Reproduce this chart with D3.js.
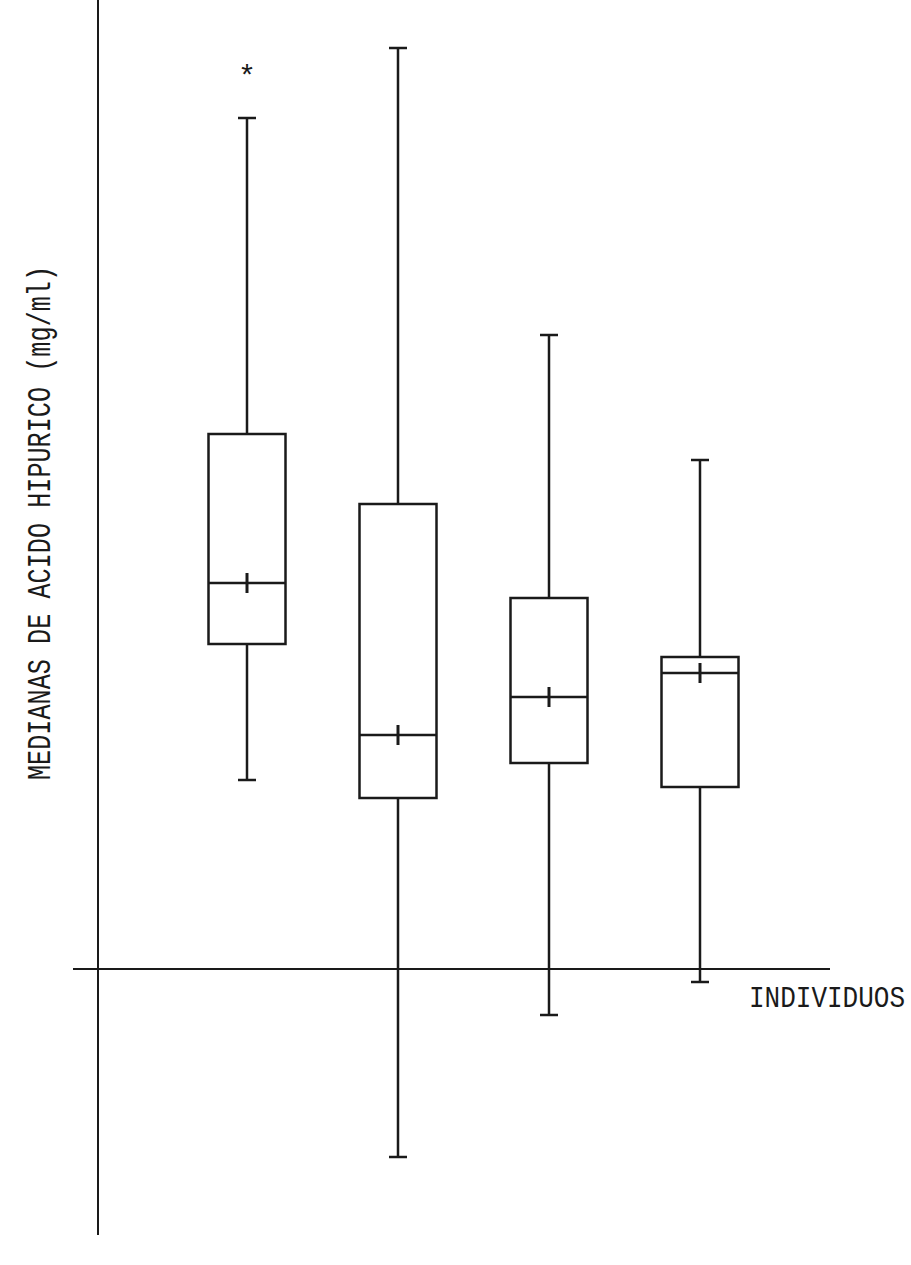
<!DOCTYPE html>
<html>
<head>
<meta charset="utf-8">
<title>Medianas de acido hipurico</title>
<style>
    body { margin: 0; background: #fff; }
    svg { display: block; }
    .lbl { font-family: "Liberation Mono", "DejaVu Sans Mono", monospace; fill: #1a1a1a; }
</style>
<script src="https://cdn.jsdelivr.net/npm/d3@7"></script>
</head>
<body>
<div id="chart"></div>
<script>
    // individuos (sin etiquetas en el original)
    const individuos = [1, 2, 3, 4];
    // valores (unidades relativas, 0 = eje horizontal)
    const bigoteSup = [8.51, 9.21, 6.34, 5.09];
    const cuartil3  = [5.35, 4.65, 3.71, 3.12];
    const mediana   = [3.86, 2.34, 2.72, 2.96];
    const cuartil1  = [3.25, 1.71, 2.06, 1.82];
    const bigoteInf = [1.89, -1.88, -0.46, -0.13];
    const atipicos  = [[1, 8.96]];

    const width = 911, height = 1265;
    const ink = '#1a1a1a';

    const svg = d3.select('#chart').append('svg')
        .attr('width', width)
        .attr('height', height);

    const x = d3.scalePoint()
        .domain(individuos)
        .range([247, 700]);

    const y = d3.scaleLinear()
        .domain([-2.66, 9.69])
        .range([1235, 0]);

    const boxW = 77, capW = 18;

    // ejes
    svg.append('line')
        .attr('x1', 98).attr('x2', 98)
        .attr('y1', y(9.69)).attr('y2', y(-2.66))
        .attr('stroke', ink).attr('stroke-width', 2);
    svg.append('line')
        .attr('x1', 73).attr('x2', 830)
        .attr('y1', y(0)).attr('y2', y(0))
        .attr('stroke', ink).attr('stroke-width', 2);

    const data = individuos.map((d, i) => ({
        id: d, hi: bigoteSup[i], q3: cuartil3[i], med: mediana[i], q1: cuartil1[i], lo: bigoteInf[i]
    }));

    const g = svg.selectAll('g.box').data(data).enter()
        .append('g').attr('class', 'box')
        .attr('stroke', ink).attr('stroke-width', 2.5).attr('fill', 'none');

    // bigotes
    g.append('line')
        .attr('x1', d => x(d.id)).attr('x2', d => x(d.id))
        .attr('y1', d => y(d.hi)).attr('y2', d => y(d.q3));
    g.append('line')
        .attr('x1', d => x(d.id)).attr('x2', d => x(d.id))
        .attr('y1', d => y(d.q1)).attr('y2', d => y(d.lo));
    g.append('line')
        .attr('x1', d => x(d.id) - capW / 2).attr('x2', d => x(d.id) + capW / 2)
        .attr('y1', d => y(d.hi)).attr('y2', d => y(d.hi));
    g.append('line')
        .attr('x1', d => x(d.id) - capW / 2).attr('x2', d => x(d.id) + capW / 2)
        .attr('y1', d => y(d.lo)).attr('y2', d => y(d.lo));

    // caja
    g.append('rect')
        .attr('x', d => x(d.id) - boxW / 2)
        .attr('width', boxW)
        .attr('y', d => y(d.q3))
        .attr('height', d => y(d.q1) - y(d.q3));

    // mediana con marca
    g.append('line')
        .attr('x1', d => x(d.id) - boxW / 2).attr('x2', d => x(d.id) + boxW / 2)
        .attr('y1', d => y(d.med)).attr('y2', d => y(d.med));
    g.append('line')
        .attr('stroke-width', 3)
        .attr('x1', d => x(d.id)).attr('x2', d => x(d.id))
        .attr('y1', d => y(d.med) - 10).attr('y2', d => y(d.med) + 10);

    // atipicos
    svg.selectAll('text.out').data(atipicos).enter()
        .append('text').attr('class', 'lbl out')
        .attr('x', d => x(d[0])).attr('y', d => y(d[1]) + 13)
        .attr('text-anchor', 'middle')
        .attr('font-size', 30)
        .text('*');

    // titulos de ejes (letra de maquina, estrecha y alta)
    svg.append('text').attr('class', 'lbl')
        .attr('transform', 'translate(749,1007) scale(1,1.1)')
        .attr('font-size', 26)
        .text('INDIVIDUOS');

    svg.append('text').attr('class', 'lbl')
        .attr('transform', 'translate(50,780) rotate(-90) scale(1,1.3)')
        .attr('font-size', 25.2)
        .text('MEDIANAS DE ACIDO HIPURICO (mg/ml)');
</script>
</body>
</html>
